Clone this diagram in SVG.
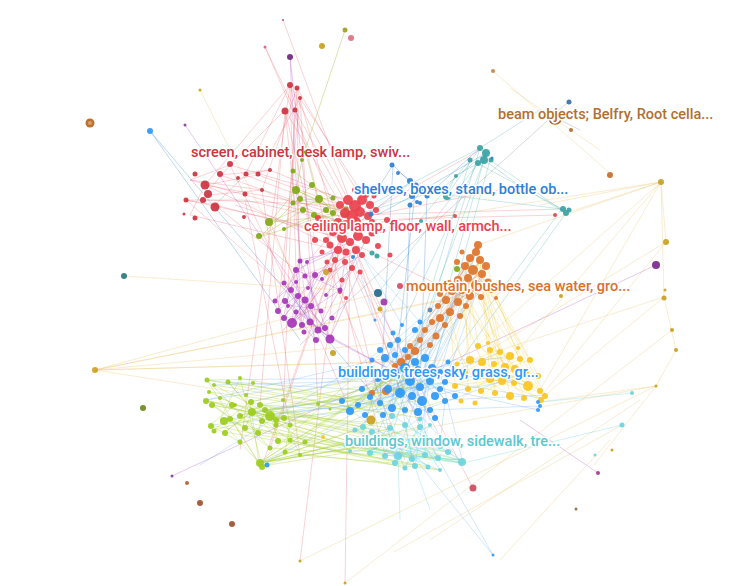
<svg xmlns="http://www.w3.org/2000/svg" width="749" height="586" viewBox="0 0 749 586">
<style>
.e{fill:none;stroke-width:.7}
.er{stroke:#e8606a;stroke-opacity:.4}
.ep{stroke:#b452c4;stroke-opacity:.45}
.eo{stroke:#98b428;stroke-opacity:.5}
.et{stroke:#55b2b4;stroke-opacity:.45}
.es{stroke:#4a8fd8;stroke-opacity:.5}
.eb{stroke:#52a8f4;stroke-opacity:.38}
.eor{stroke:#e0884a;stroke-opacity:.4}
.ey{stroke:#f4cc3c;stroke-opacity:.45}
.eg{stroke:#a6d034;stroke-opacity:.5}
.ec{stroke:#76d8e0;stroke-opacity:.5}
.el{stroke:#eec878;stroke-opacity:.5}
.eq{stroke:#9aa8b0;stroke-opacity:.6}
.n circle{fill-opacity:.92}
.dr{fill:#cd3340}.rd{fill:#e8414d}.pu{fill:#a535b8}.ol{fill:#80a813}.tl{fill:#3ba2a3}.sb{fill:#2e80d3}.or{fill:#e0742a}.ye{fill:#f8c61e}.bl{fill:#2e98f5}.yg{fill:#9ccc1e}.cy{fill:#6dd4dc}.gd{fill:#c9a020}
text{font-family:Roboto,"Liberation Sans",sans-serif;font-size:14.5px;font-weight:500;stroke:#fff;stroke-width:3;stroke-linejoin:round;paint-order:stroke}
</style>
<rect width="749" height="586" fill="#fff"/>
<g id="connectors">
<path class="e el" d="M95,370L420,340M95,370L470,295M95,370L400,362M95,370L350,410M95,370L378,293M95,370L520,358M95,370L440,300M661,182L478,345M661,182L540,390M661,182L505,366M661,182L666,242M661,182L664,297M666,242L540,398M664,297L545,395M656,386L540,402M656,386L300,561M672,330L345,583M640,400L430,540M661,182L420,220M661,182L540,205M566,213L661,182M664,297L676,350M676,350L656,386M656,386L594,465M493,71L612,175M510,88L600,150M661,182L478,245M622,425L394,552M610,440L500,560M200,90L333,353M124,276L340,290M664,297L470,360M666,242L490,350M656,386L360,440"/>
<path class="e eq" d="M300,345L568,102M540,110L580,130"/>
<path class="e er" d="M205,185L340,210M190,180L345,222M186,200L333,232M215,205L342,238M230,165L348,200M245,175L352,215M258,175L360,212M262,190L346,225M270,170L355,205M245,200L338,222M235,205L350,242M220,175L356,222M190,215L338,250M204,200L340,205M290,85L348,200M297,88L362,200M285,110L345,212M295,110L356,222M300,98L370,205M290,85L330,245M297,88L345,262M285,110L315,240M290,85L245,175M290,85L205,185M297,88L262,190M285,110L230,165M300,98L258,175M205,185L258,175M190,180L262,190M186,200L245,200M220,175L270,170M230,165L205,195M208,195L262,190M215,205L245,175M190,180L230,165M186,200L215,205M205,185L190,215M245,175L270,170M265,47L340,220M283,20L355,215M265,47L295,110M355,215L562,209M362,220L556,215M350,225L455,215M368,216L520,186M346,225L480,150M345,245L300,320M350,250L290,330M340,240L310,300M338,250L283,318M352,255L305,275M346,262L292,322M333,232L275,300M342,238L320,330M356,250L330,338M362,255L340,290M340,240L410,380M356,250L400,392M345,262L380,402M350,242L470,300M360,260L430,420M330,270L405,460M270,222L350,410M338,250L300,561M350,250L345,583M473,488L360,272M297,88L300,330M290,85L240,450M205,185L330,245M186,200L300,300M285,110L260,405M295,110L283,418M300,98L318,403M262,190L300,455M245,200L290,425M342,238L262,466M335,260L270,448M352,268L420,427M330,245L385,455M290,85L296,270M297,88L284,283M300,98L278,310M285,110L305,300M215,205L296,270M230,165L290,290"/>
<path class="e ep" d="M300,260L292,322M307,262L318,330M296,270L283,318M305,275L330,338M315,275L302,325M284,283L310,322M290,290L325,328M298,295L278,310M285,300L315,340M305,300L292,322M310,305L283,330M295,310L330,338M275,300L305,275M278,310L300,260M283,318L315,275M292,322L340,290M302,325L296,270M310,322L284,283M318,330L290,290M325,328L298,295M330,338L285,300M315,340L305,300M288,305L320,310M320,310L300,260M340,290L296,270M300,260L345,250M307,262L350,242M315,275L356,250M322,278L362,255M340,290L345,262M296,270L338,250M325,295L352,268M330,338L360,272M318,330L366,240M292,322L342,238M290,57L300,260M290,57L315,275M380,395L656,265M172,476L400,370M185,125L330,338M598,473L520,420M330,338L410,380M318,330L395,372"/>
<path class="e eo" d="M296,190L345,215M300,200L347,208M312,185L340,205M318,200L352,215M303,210L338,222M314,215L346,225M326,210L333,213M270,222L318,200M260,237L303,210M296,190L318,200M293,171L312,185M302,160L296,190M305,150L318,200M270,222L345,215M284,229L326,210M296,190L270,222M312,185L260,237M333,198L300,200M318,195L333,213M260,237L333,213M305,150L345,30"/>
<path class="e et" d="M480,148L447,195M486,153L440,190M484,160L520,186M477,163L562,209M490,160L566,213M470,160L420,220M486,153L378,293M480,148L370,205M447,195L562,209M440,190L355,215M484,160L455,176M455,176L447,195M520,186L566,213M480,148L410,380M486,153L420,386M484,160L392,408M490,160L430,380M477,163L370,395M470,160L400,392M566,213L445,382M562,209L440,372M480,148L540,110"/>
<path class="e es" d="M393,165L410,182M399,172L423,190M410,182L427,196M416,185L412,196M423,190L410,204M412,196L377,215M393,165L356,222M410,182L362,220M427,196L480,148M423,190L486,153M416,185L395,372M410,204L405,368M427,196L420,386M393,165L380,402M150,131L300,340M150,131L380,402"/>
<path class="e eb" d="M390,345L422,400M398,340L392,408M405,350L445,400M385,358L430,380M395,372L455,395M405,368L350,410M415,362L370,395M425,358L380,402M432,368L388,388M440,372L365,415M410,380L342,400M420,386L358,405M430,380L418,412M445,382L392,408M378,378L435,418M388,388L440,388M400,392L425,358M412,395L398,340M422,400L385,358M435,395L390,345M445,400L405,350M370,395L432,368M380,402L440,372M392,408L415,362M405,410L395,372M418,412L410,380M430,410L378,378M350,410L420,386M358,405L445,382M400,392L458,302M410,380L450,312M420,386L470,295M430,380L476,285M395,372L440,318M405,368L462,290M415,362L473,270M385,358L446,300M390,345L452,290M422,400L465,266M412,395L480,260M440,372L478,245M378,378L438,306M370,395L432,322M445,382L486,265M388,388L458,280M350,410L445,325M358,405L436,335M342,400L430,345M432,368L482,274M425,358L488,282M365,415L420,340M383,415L425,330M392,408L468,278M405,410L476,252M440,372L528,385M445,382L540,398M432,368L510,356M445,400L545,395M435,395L538,375M420,386L500,352M430,410L540,406M418,412L526,372M440,388L538,410M400,392L460,460M410,380L448,452M420,386L398,455M390,345L412,458M405,368L370,452M415,362L385,455M425,358L425,455M385,358L360,440M395,372L438,458M430,380L415,465M378,378L395,462M388,388L440,470M350,410L428,466M370,395L405,468M440,372L463,463M445,400L440,445M432,368L355,430M412,395L375,445M350,410L260,405M342,400L252,412M358,405L270,415M370,395L240,415M380,402L220,420M392,408L210,425M385,358L206,400M378,378L207,380M365,415L259,463M400,392L228,382M410,380L214,385M395,372L206,400M405,368L250,402M400,440L493,555M420,427L493,555M200,465L390,345M380,320L420,260M375,320L340,210M420,322L350,242M402,325L362,255"/>
<path class="e eor" d="M478,245L446,300M476,252L438,306M470,258L450,312M480,260L440,318M486,265L432,322M465,266L488,282M473,270L495,300M482,274L452,290M468,278L490,290M458,280L480,296M488,282L446,300M476,285L425,330M462,290L486,265M452,290L478,245M470,295L465,266M480,296L458,280M446,300L473,270M458,302L476,252M466,305L482,274M438,306L470,258M450,312L480,260M440,318L476,285M432,322L470,295M445,325L462,290M425,330L458,302M436,335L466,305M420,340L450,312M430,345L440,318M415,350L445,325M408,356L436,335M400,362L430,345M395,365L420,340M410,345L432,322M372,393L415,350M385,390L408,356M478,245L400,362M473,270L395,365M476,252L385,390M486,265L372,393"/>
<path class="e ey" d="M470,295L478,345M476,285L500,352M480,296L520,358M488,282L530,360M462,290L470,360M458,302L482,362M466,305L505,366M452,290L515,368M446,300L465,372M480,260L490,378M486,265L528,385M473,270L540,390M482,274L510,395M476,252L502,380M490,290L545,395M495,300L538,375M450,312L455,385M440,318L480,390M468,278L525,397M478,245L495,392M465,266L468,388M458,280L514,382M478,345L540,402M490,350L528,385M500,352L465,372M510,356L478,375M520,358L490,378M530,360L455,385M470,360L545,395M482,362L540,390M494,364L525,397M505,366L460,400M515,368L475,402M526,372L468,388M538,375L480,390M465,372L514,382M478,375L510,395M490,378L540,398M502,380L455,385M528,385L478,345M540,390L500,352M486,285L500,340M470,258L470,340M480,260L455,340"/>
<path class="e eg" d="M207,380L259,463M214,385L270,415M209,392L252,412M228,382L262,420M240,378L220,420M206,400L275,420M212,405L283,418M220,398L290,425M235,405L210,425M250,402L214,430M260,405L225,432M252,412L245,428M265,410L258,432M270,415L278,440M262,420L290,440M275,420L305,442M283,418L300,455M290,425L285,452M240,415L270,448M230,418L259,463M220,420L262,466M210,425L240,442M214,430L270,415M225,432L252,412M245,428L206,400M258,432L207,380M278,440L228,382M259,463L250,402M262,466L240,378M270,448L212,405M259,463L360,440M259,463L388,442M259,463L400,440M259,463L375,445M259,463L420,427M259,463L355,430M262,466L415,442M262,466L390,428M270,415L405,425M270,415L440,445M252,412L460,460M265,410L425,438M283,418L448,452M275,420L398,455M290,425L412,458M260,405L370,432M250,402L363,427M240,415L385,455M230,418L370,452M220,420L350,450M206,400L345,445M207,380L392,415M214,385L420,418M228,382L405,410M240,378L418,412M210,425L440,470M225,432L428,466M245,428L438,458M258,432L463,463M278,440L395,462M290,440L405,468M300,455L415,465M305,442L425,455M270,448L460,460M285,452L440,470M259,463L390,345M262,466L405,368M259,463L415,362M259,463L425,358M270,415L400,392M265,410L410,380M252,412L420,386M283,418L430,380M290,425L412,395M275,420L422,400M240,415L445,382M260,405L440,372M318,403L432,368M250,402L395,372M259,463L445,400M262,466L432,368M207,380L380,402M209,392L350,410M212,405L400,440M206,401L390,428"/>
<path class="e ec" d="M355,430L460,460M363,427L448,452M370,432L438,458M390,428L425,455M405,425L412,458M420,427L398,455M430,425L385,455M360,440L463,463M375,445L440,470M388,442L428,466M400,440L415,465M415,442L405,468M425,438L395,462M440,445L370,452M448,452L360,440M370,452L460,460M385,455L463,463M398,455L440,445M412,458L355,430M425,455L363,427M438,458L390,428M460,460L405,425M395,462L420,427M405,468L430,425M350,450L460,460M345,445L463,463M392,415L460,460M420,418L370,452M398,455L400,520M412,458L430,510M632,393L540,402M622,425L463,463"/>
</g>
<g id="node-screen" class="n">
<circle class="dr" cx="290" cy="85" r="3"/><circle class="dr" cx="297" cy="88" r="2.5"/><circle class="dr" cx="295" cy="110" r="2.5"/><circle class="dr" cx="285" cy="111" r="3.5"/><circle class="dr" cx="300" cy="98" r="2"/><circle class="dr" cx="205" cy="185" r="4.5"/><circle class="dr" cx="208" cy="194" r="4"/><circle class="dr" cx="203" cy="200" r="3"/><circle class="dr" cx="215" cy="207" r="4.5"/><circle class="dr" cx="186" cy="200" r="2.5"/><circle class="dr" cx="195" cy="174" r="2.5"/><circle class="dr" cx="220" cy="174" r="3"/><circle class="dr" cx="230" cy="164" r="3"/><circle class="dr" cx="246" cy="174" r="2.5"/><circle class="dr" cx="258" cy="174" r="2.5"/><circle class="dr" cx="262" cy="190" r="2"/><circle class="dr" cx="245" cy="194" r="2.5"/><circle class="dr" cx="238" cy="178" r="2"/><circle class="dr" cx="270" cy="170" r="2"/><circle class="dr" cx="195" cy="218" r="2.5"/><circle class="dr" cx="244" cy="217" r="2"/><circle class="dr" cx="184" cy="214" r="1.5"/>
<circle cx="265" cy="47" r="1.5" fill="#e05a8a"/><circle cx="283" cy="20" r="1" fill="#c04060"/>
<text x="191" y="157" fill="#cd3340">screen, cabinet, desk lamp, swiv...</text>
</g>
<g id="node-olive" class="n">
<circle class="ol" cx="293" cy="171" r="2.5"/><circle class="ol" cx="296" cy="190" r="4"/><circle class="ol" cx="300" cy="199" r="3"/><circle class="ol" cx="293" cy="203" r="2.5"/><circle class="ol" cx="312" cy="185" r="3"/><circle class="ol" cx="319" cy="199" r="4"/><circle class="ol" cx="303" cy="210" r="3"/><circle class="ol" cx="314" cy="215" r="3"/><circle class="ol" cx="326" cy="210" r="3"/><circle class="ol" cx="333" cy="213" r="3"/><circle class="ol" cx="269" cy="222" r="4"/><circle class="ol" cx="259" cy="236" r="3"/><circle class="ol" cx="284" cy="229" r="2"/><circle class="ol" cx="302" cy="160" r="2"/><circle class="ol" cx="305" cy="152" r="1.5"/><circle class="ol" cx="333" cy="198" r="2.5"/><circle class="ol" cx="346" cy="209" r="2.5"/><circle class="ol" cx="344" cy="215" r="3"/><circle class="ol" cx="457" cy="269" r="3"/>
</g>
<g id="node-ceiling" class="n">
<circle class="rd" cx="340" cy="205" r="4"/><circle class="rd" cx="348" cy="200" r="5"/><circle class="rd" cx="355" cy="206" r="6"/><circle class="rd" cx="362" cy="200" r="5"/><circle class="rd" cx="370" cy="205" r="4"/><circle class="rd" cx="376" cy="210" r="3"/><circle class="rd" cx="345" cy="213" r="5"/><circle class="rd" cx="352" cy="216" r="6"/><circle class="rd" cx="360" cy="212" r="5"/><circle class="rd" cx="368" cy="216" r="4"/><circle class="rd" cx="338" cy="222" r="4"/><circle class="rd" cx="346" cy="225" r="5"/><circle class="rd" cx="356" cy="222" r="5"/><circle class="rd" cx="364" cy="226" r="4"/><circle class="rd" cx="372" cy="222" r="3"/><circle class="rd" cx="333" cy="232" r="4"/><circle class="rd" cx="342" cy="238" r="5"/><circle class="rd" cx="350" cy="242" r="4"/><circle class="rd" cx="358" cy="236" r="5"/><circle class="rd" cx="366" cy="240" r="4"/><circle class="rd" cx="330" cy="245" r="3.5"/><circle class="rd" cx="338" cy="250" r="4"/><circle class="rd" cx="346" cy="252" r="3.5"/><circle class="rd" cx="356" cy="250" r="4"/><circle class="rd" cx="362" cy="255" r="3"/><circle class="rd" cx="335" cy="260" r="3"/><circle class="rd" cx="345" cy="262" r="3"/><circle class="rd" cx="352" cy="268" r="3"/><circle class="rd" cx="330" cy="270" r="2.5"/><circle class="rd" cx="318" cy="218" r="3"/><circle class="rd" cx="315" cy="240" r="3"/><circle class="rd" cx="322" cy="252" r="2.5"/><circle class="rd" cx="382" cy="230" r="3"/><circle class="rd" cx="378" cy="246" r="3"/><circle class="rd" cx="387" cy="220" r="3"/><circle class="rd" cx="355" cy="190" r="3"/><circle class="rd" cx="366" cy="195" r="3"/><circle class="rd" cx="374" cy="196" r="2.5"/><circle class="rd" cx="390" cy="255" r="2.5"/><circle class="rd" cx="360" cy="272" r="2.5"/><circle class="rd" cx="342" cy="280" r="2.5"/><circle class="rd" cx="346" cy="298" r="2"/><circle class="rd" cx="340" cy="292" r="2"/><circle class="rd" cx="326" cy="240" r="3"/><circle class="rd" cx="372" cy="233" r="3.5"/><circle class="rd" cx="327" cy="262" r="2.5"/><circle class="rd" cx="555" cy="215" r="2"/><circle class="rd" cx="455" cy="216" r="2"/>
<circle class="tl" cx="372" cy="253" r="2.5"/><circle class="tl" cx="377" cy="256" r="2.5"/><circle class="sb" cx="371" cy="214" r="2.5"/><circle class="sb" cx="353" cy="257" r="2"/>
<text x="304" y="231" fill="#e8414d">ceiling lamp, floor, wall, armch...</text>
</g>
<g id="node-purple" class="n">
<circle class="pu" cx="300" cy="261" r="2.5"/><circle class="pu" cx="307" cy="262" r="2"/><circle class="pu" cx="296" cy="270" r="3"/><circle class="pu" cx="305" cy="276" r="2.5"/><circle class="pu" cx="315" cy="275" r="3"/><circle class="pu" cx="322" cy="279" r="2"/><circle class="pu" cx="284" cy="283" r="2.5"/><circle class="pu" cx="291" cy="290" r="3"/><circle class="pu" cx="298" cy="296" r="3"/><circle class="pu" cx="285" cy="301" r="3"/><circle class="pu" cx="305" cy="300" r="3.5"/><circle class="pu" cx="311" cy="306" r="3"/><circle class="pu" cx="296" cy="312" r="2.5"/><circle class="pu" cx="275" cy="301" r="2.5"/><circle class="pu" cx="278" cy="311" r="3"/><circle class="pu" cx="284" cy="318" r="3"/><circle class="pu" cx="292" cy="323" r="5"/><circle class="pu" cx="302" cy="325" r="3"/><circle class="pu" cx="310" cy="322" r="3.5"/><circle class="pu" cx="318" cy="330" r="3.5"/><circle class="pu" cx="325" cy="328" r="3"/><circle class="pu" cx="330" cy="339" r="4.5"/><circle class="pu" cx="316" cy="340" r="3"/><circle class="pu" cx="288" cy="306" r="2"/><circle class="pu" cx="321" cy="311" r="2.5"/><circle class="pu" cx="340" cy="290" r="2.5"/><circle class="pu" cx="326" cy="295" r="2"/><circle class="pu" cx="308" cy="288" r="2"/><circle class="pu" cx="296" cy="282" r="2"/><circle class="pu" cx="304" cy="332" r="2.5"/><circle class="pu" cx="332" cy="318" r="2.5"/>
<circle cx="384" cy="302" r="3.5" fill="#9b3aa8"/>
</g>
<g id="node-teal" class="n">
<circle class="tl" cx="480" cy="148" r="3"/><circle class="tl" cx="486" cy="153" r="4"/><circle class="tl" cx="484" cy="160" r="4"/><circle class="tl" cx="478" cy="163" r="3"/><circle class="tl" cx="470" cy="160" r="2.5"/><circle class="tl" cx="491" cy="160" r="2.5"/><circle class="tl" cx="456" cy="176" r="2"/><circle class="tl" cx="440" cy="190" r="2.5"/><circle class="tl" cx="447" cy="196" r="4"/><circle class="tl" cx="520" cy="187" r="2"/><circle class="tl" cx="563" cy="209" r="3"/><circle class="tl" cx="566" cy="213" r="3"/><circle class="tl" cx="569" cy="210" r="2.5"/><circle class="tl" cx="421" cy="221" r="2"/>
</g>
<g id="node-shelves" class="n">
<circle class="sb" cx="392" cy="165" r="2.5"/><circle class="sb" cx="398" cy="173" r="2"/><circle class="sb" cx="410" cy="181" r="3"/><circle class="sb" cx="416" cy="185" r="2.5"/><circle class="sb" cx="423" cy="189" r="2.5"/><circle class="sb" cx="427" cy="196" r="2.5"/><circle class="sb" cx="412" cy="196" r="3"/><circle class="sb" cx="410" cy="205" r="2.5"/><circle class="sb" cx="417" cy="202" r="2"/><circle class="sb" cx="420" cy="203" r="2"/><circle class="sb" cx="492" cy="158" r="1.5"/>
<text x="354" y="194" fill="#2e80d3">shelves, boxes, stand, bottle ob...</text>
</g>
<g id="node-mountain" class="n">
<circle class="or" cx="478" cy="245" r="4"/><circle class="or" cx="476" cy="252" r="4"/><circle class="or" cx="470" cy="258" r="4"/><circle class="or" cx="480" cy="260" r="4"/><circle class="or" cx="486" cy="266" r="4"/><circle class="or" cx="465" cy="266" r="4"/><circle class="or" cx="473" cy="270" r="5"/><circle class="or" cx="482" cy="274" r="4"/><circle class="or" cx="468" cy="278" r="4"/><circle class="or" cx="458" cy="280" r="4"/><circle class="or" cx="488" cy="282" r="3.5"/><circle class="or" cx="476" cy="285" r="5"/><circle class="or" cx="462" cy="290" r="4"/><circle class="or" cx="452" cy="291" r="4"/><circle class="or" cx="470" cy="296" r="4"/><circle class="or" cx="481" cy="297" r="3"/><circle class="or" cx="446" cy="300" r="4"/><circle class="or" cx="458" cy="302" r="4"/><circle class="or" cx="466" cy="306" r="3"/><circle class="or" cx="438" cy="306" r="3"/><circle class="or" cx="450" cy="312" r="4"/><circle class="or" cx="440" cy="318" r="4"/><circle class="or" cx="432" cy="322" r="3"/><circle class="or" cx="445" cy="325" r="3"/><circle class="or" cx="425" cy="330" r="3"/><circle class="or" cx="436" cy="336" r="3.5"/><circle class="or" cx="420" cy="340" r="3"/><circle class="or" cx="430" cy="345" r="3"/><circle class="or" cx="415" cy="351" r="4"/><circle class="or" cx="408" cy="357" r="3"/><circle class="or" cx="401" cy="362" r="4"/><circle class="or" cx="395" cy="366" r="3"/><circle class="or" cx="410" cy="346" r="3"/><circle class="or" cx="491" cy="290" r="3"/><circle class="or" cx="496" cy="298" r="2"/><circle class="or" cx="460" cy="316" r="3"/><circle class="or" cx="457" cy="262" r="3"/><circle class="or" cx="449" cy="283" r="3"/><circle class="or" cx="440" cy="294" r="3"/><circle class="or" cx="462" cy="252" r="2.5"/><circle class="or" cx="386" cy="391" r="4"/><circle class="or" cx="372" cy="393" r="3"/><circle class="or" cx="430" cy="310" r="2.5"/>
<text x="406" y="291" fill="#d9712a">mountain, bushes, sea water, gro...</text>
</g>
<g id="node-yellow" class="n">
<circle class="ye" cx="478" cy="346" r="3"/><circle class="ye" cx="490" cy="350" r="3"/><circle class="ye" cx="500" cy="352" r="3"/><circle class="ye" cx="510" cy="356" r="4"/><circle class="ye" cx="520" cy="359" r="3"/><circle class="ye" cx="530" cy="360" r="3"/><circle class="ye" cx="470" cy="360" r="4"/><circle class="ye" cx="482" cy="362" r="4"/><circle class="ye" cx="494" cy="364" r="3"/><circle class="ye" cx="505" cy="367" r="4"/><circle class="ye" cx="515" cy="369" r="4"/><circle class="ye" cx="526" cy="372" r="3"/><circle class="ye" cx="538" cy="376" r="3"/><circle class="ye" cx="465" cy="373" r="3"/><circle class="ye" cx="478" cy="376" r="4"/><circle class="ye" cx="490" cy="379" r="4"/><circle class="ye" cx="502" cy="381" r="4"/><circle class="ye" cx="514" cy="383" r="3"/><circle class="ye" cx="528" cy="386" r="5"/><circle class="ye" cx="540" cy="391" r="3"/><circle class="ye" cx="545" cy="396" r="3"/><circle class="ye" cx="455" cy="386" r="3"/><circle class="ye" cx="468" cy="389" r="3"/><circle class="ye" cx="481" cy="391" r="3"/><circle class="ye" cx="495" cy="393" r="3"/><circle class="ye" cx="510" cy="396" r="4"/><circle class="ye" cx="524" cy="398" r="3"/><circle class="ye" cx="461" cy="401" r="2.5"/><circle class="ye" cx="475" cy="403" r="2.5"/><circle class="ye" cx="541" cy="400" r="3"/><circle class="ye" cx="488" cy="343" r="2"/><circle class="ye" cx="457" cy="364" r="2.5"/><circle class="ye" cx="518" cy="348" r="2"/>
</g>
<g id="node-trees" class="n">
<circle class="bl" cx="390" cy="345" r="3"/><circle class="bl" cx="398" cy="340" r="3"/><circle class="bl" cx="405" cy="350" r="3"/><circle class="bl" cx="385" cy="358" r="4"/><circle class="bl" cx="395" cy="372" r="4"/><circle class="bl" cx="405" cy="368" r="5"/><circle class="bl" cx="415" cy="362" r="4"/><circle class="bl" cx="425" cy="358" r="4"/><circle class="bl" cx="432" cy="368" r="4"/><circle class="bl" cx="440" cy="372" r="3"/><circle class="bl" cx="410" cy="381" r="5"/><circle class="bl" cx="420" cy="387" r="4"/><circle class="bl" cx="430" cy="381" r="4"/><circle class="bl" cx="445" cy="382" r="3"/><circle class="bl" cx="378" cy="379" r="3"/><circle class="bl" cx="388" cy="389" r="4"/><circle class="bl" cx="400" cy="393" r="5"/><circle class="bl" cx="412" cy="396" r="4"/><circle class="bl" cx="422" cy="401" r="5"/><circle class="bl" cx="435" cy="396" r="4"/><circle class="bl" cx="445" cy="401" r="3"/><circle class="bl" cx="370" cy="397" r="3"/><circle class="bl" cx="380" cy="403" r="3"/><circle class="bl" cx="392" cy="408" r="4"/><circle class="bl" cx="405" cy="410" r="3"/><circle class="bl" cx="418" cy="412" r="4"/><circle class="bl" cx="430" cy="410" r="3"/><circle class="bl" cx="350" cy="411" r="4"/><circle class="bl" cx="358" cy="405" r="3"/><circle class="bl" cx="342" cy="401" r="3"/><circle class="bl" cx="365" cy="415" r="3"/><circle class="bl" cx="383" cy="415" r="3"/><circle class="bl" cx="440" cy="389" r="3"/><circle class="bl" cx="395" cy="355" r="3"/><circle class="bl" cx="455" cy="396" r="3"/><circle class="bl" cx="435" cy="418" r="3"/><circle class="bl" cx="418" cy="369" r="3"/><circle class="bl" cx="362" cy="389" r="3"/><circle class="bl" cx="415" cy="330" r="3"/><circle class="bl" cx="420" cy="322" r="2.5"/><circle class="bl" cx="430" cy="310" r="2"/><circle class="bl" cx="402" cy="325" r="2"/><circle class="bl" cx="375" cy="320" r="1.5"/><circle class="bl" cx="393" cy="333" r="2.5"/><circle class="bl" cx="380" cy="350" r="3"/><circle class="bl" cx="538" cy="402" r="2"/><circle class="bl" cx="540" cy="406" r="2"/><circle class="bl" cx="538" cy="410" r="2"/><circle class="bl" cx="267" cy="465" r="2.5"/><circle class="bl" cx="493" cy="555" r="1.5"/><circle class="bl" cx="150" cy="131" r="3"/><circle class="bl" cx="372" cy="360" r="2.5"/><circle class="bl" cx="448" cy="362" r="2.5"/>
<circle class="gd" cx="371" cy="420" r="4.5"/>
<text x="338" y="377" fill="#2e98f5">buildings, trees, sky, grass, gr...</text>
</g>
<g id="node-yellowgreen" class="n">
<circle class="yg" cx="207" cy="380" r="2.5"/><circle class="yg" cx="214" cy="385" r="2"/><circle class="yg" cx="209" cy="392" r="2"/><circle class="yg" cx="228" cy="382" r="2.5"/><circle class="yg" cx="240" cy="378" r="2"/><circle class="yg" cx="206" cy="401" r="3"/><circle class="yg" cx="212" cy="405" r="3"/><circle class="yg" cx="220" cy="398" r="2"/><circle class="yg" cx="235" cy="405" r="2"/><circle class="yg" cx="251" cy="402" r="3"/><circle class="yg" cx="260" cy="405" r="3"/><circle class="yg" cx="252" cy="412" r="4"/><circle class="yg" cx="265" cy="410" r="3"/><circle class="yg" cx="270" cy="416" r="5"/><circle class="yg" cx="262" cy="421" r="3"/><circle class="yg" cx="276" cy="420" r="3"/><circle class="yg" cx="284" cy="418" r="3"/><circle class="yg" cx="290" cy="425" r="2.5"/><circle class="yg" cx="240" cy="416" r="3"/><circle class="yg" cx="230" cy="419" r="3"/><circle class="yg" cx="224" cy="421" r="4"/><circle class="yg" cx="211" cy="426" r="3"/><circle class="yg" cx="214" cy="431" r="2.5"/><circle class="yg" cx="225" cy="433" r="3"/><circle class="yg" cx="245" cy="428" r="3"/><circle class="yg" cx="258" cy="433" r="3"/><circle class="yg" cx="278" cy="441" r="3"/><circle class="yg" cx="290" cy="440" r="2.5"/><circle class="yg" cx="305" cy="442" r="2.5"/><circle class="yg" cx="300" cy="455" r="2"/><circle class="yg" cx="285" cy="452" r="2.5"/><circle class="yg" cx="270" cy="448" r="2.5"/><circle class="yg" cx="260" cy="463" r="4"/><circle class="yg" cx="262" cy="467" r="3"/><circle class="yg" cx="240" cy="442" r="2.5"/><circle class="yg" cx="318" cy="404" r="2"/><circle class="yg" cx="330" cy="409" r="1.5"/><circle class="yg" cx="276" cy="425" r="2.5"/><circle class="yg" cx="246" cy="395" r="2"/><circle class="yg" cx="283" cy="400" r="2"/><circle class="yg" cx="232" cy="405" r="3"/><circle class="yg" cx="253" cy="383" r="2"/>
<circle class="ye" cx="323" cy="437" r="2"/>
</g>
<g id="node-window" class="n">
<circle class="cy" cx="355" cy="430" r="2.5"/><circle class="cy" cx="363" cy="427" r="3"/><circle class="cy" cx="372" cy="432" r="3"/><circle class="cy" cx="390" cy="428" r="3"/><circle class="cy" cx="405" cy="425" r="3"/><circle class="cy" cx="420" cy="427" r="3"/><circle class="cy" cx="430" cy="425" r="2"/><circle class="cy" cx="360" cy="441" r="3"/><circle class="cy" cx="375" cy="446" r="3"/><circle class="cy" cx="388" cy="443" r="4"/><circle class="cy" cx="400" cy="440" r="3"/><circle class="cy" cx="415" cy="442" r="3"/><circle class="cy" cx="425" cy="438" r="3"/><circle class="cy" cx="440" cy="446" r="3"/><circle class="cy" cx="448" cy="452" r="3"/><circle class="cy" cx="370" cy="453" r="3"/><circle class="cy" cx="385" cy="456" r="3"/><circle class="cy" cx="398" cy="456" r="4"/><circle class="cy" cx="412" cy="459" r="3"/><circle class="cy" cx="425" cy="455" r="3"/><circle class="cy" cx="438" cy="458" r="3"/><circle class="cy" cx="462" cy="462" r="4"/><circle class="cy" cx="395" cy="463" r="3"/><circle class="cy" cx="405" cy="468" r="2.5"/><circle class="cy" cx="415" cy="466" r="3"/><circle class="cy" cx="428" cy="467" r="2.5"/><circle class="cy" cx="440" cy="470" r="2"/><circle class="cy" cx="350" cy="451" r="2"/><circle class="cy" cx="345" cy="446" r="1.5"/><circle class="cy" cx="475" cy="440" r="2"/><circle class="cy" cx="392" cy="416" r="3"/><circle class="cy" cx="420" cy="419" r="2.5"/><circle class="cy" cx="632" cy="393" r="2"/><circle class="cy" cx="622" cy="425" r="2.5"/><circle class="cy" cx="595" cy="455" r="1.5"/>
<text x="345" y="446" fill="#5cc8d0">buildings, window, sidewalk, tre...</text>
</g>
<g id="node-beam" class="n">
<circle cx="90" cy="123" r="4.5" fill="#b5651e"/><circle cx="90" cy="123" r="2" fill="#e0a070"/>
<circle cx="569" cy="102" r="2.5" fill="#3a6ea5"/><circle cx="571" cy="130" r="2" fill="#b06a30"/><circle cx="493" cy="71" r="2" fill="#d08040"/><circle cx="610" cy="175" r="3" fill="#c07030"/>
<path d="M549,116 q0,8 6,8 q5,0 6,-5" fill="none" stroke="#b07030" stroke-width="1.5"/>
<text x="498" y="119" fill="#b07030">beam objects; Belfry, Root cella...</text>
</g>
<g id="node-outliers" class="n">
<circle cx="345" cy="30" r="2.5" fill="#a0a020"/><circle cx="322" cy="46" r="3" fill="#c9a020"/><circle cx="351" cy="38" r="3" fill="#e07080"/><circle cx="290" cy="57" r="3" fill="#6e2a7a"/><circle cx="200" cy="90" r="1.5" fill="#c9a020"/><circle cx="185" cy="125" r="1.5" fill="#8a3aa0"/><circle cx="124" cy="276" r="3" fill="#2a7a80"/><circle cx="143" cy="408" r="3" fill="#6e8a1a"/><circle cx="95" cy="370" r="3" fill="#d0a020"/><circle cx="172" cy="476" r="1.5" fill="#8a3aa0"/><circle cx="187" cy="483" r="2" fill="#b06030"/><circle cx="200" cy="503" r="3" fill="#a05030"/><circle cx="232" cy="524" r="3" fill="#a05030"/><circle cx="473" cy="488" r="3.5" fill="#d04860"/><circle cx="576" cy="509" r="1.5" fill="#8a6a40"/><circle cx="598" cy="473" r="2" fill="#a03a90"/><circle cx="612" cy="450" r="1.5" fill="#c9a020"/><circle cx="300" cy="561" r="1.5" fill="#c9a020"/><circle cx="345" cy="583" r="1.5" fill="#c9a020"/><circle cx="378" cy="293" r="4" fill="#1f6b8c"/><circle cx="400" cy="286" r="3" fill="#d84a6a"/><circle cx="380" cy="309" r="2.5" fill="#c9a020"/><circle cx="326" cy="272" r="3" fill="#c9a020"/><circle cx="333" cy="353" r="3" fill="#c9a020"/><circle cx="561" cy="296" r="2" fill="#c9a020"/>
<circle cx="661" cy="182" r="3" fill="#c9a020"/><circle cx="666" cy="242" r="3" fill="#c9a020"/><circle cx="656" cy="265" r="4" fill="#7a2a8c"/><circle cx="664" cy="298" r="2.5" fill="#c9a020"/><circle cx="672" cy="330" r="2" fill="#c9a020"/><circle cx="676" cy="350" r="2" fill="#c9a020"/><circle cx="656" cy="386" r="1.5" fill="#c9a020"/><circle cx="665" cy="290" r="1.5" fill="#c9a020"/>
</g>
</svg>
